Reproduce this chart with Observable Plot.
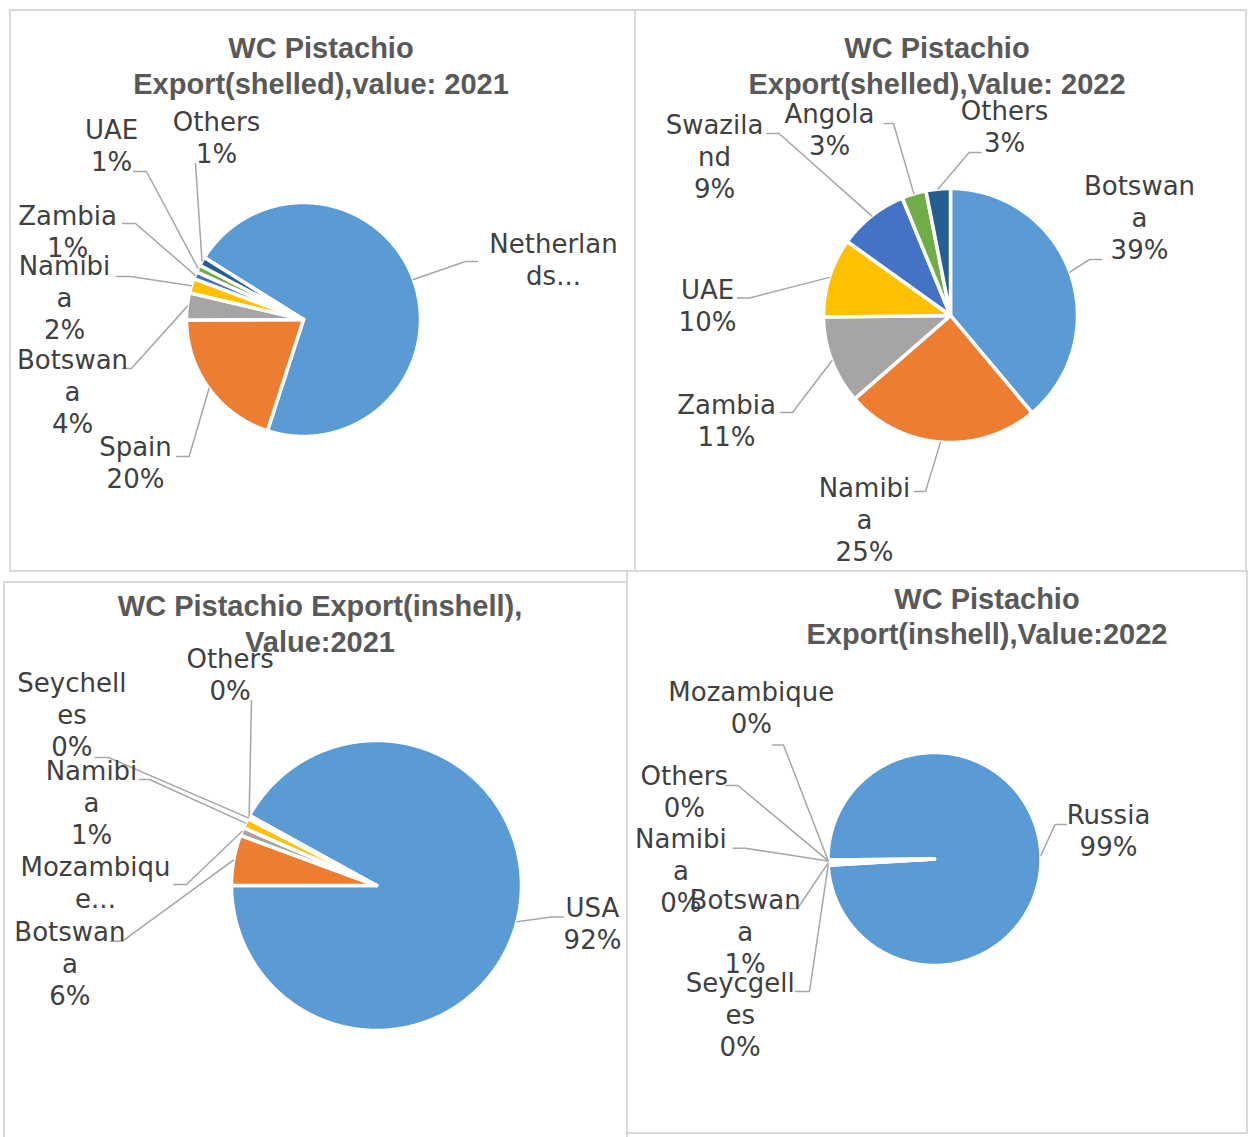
<!DOCTYPE html>
<html><head><meta charset="utf-8">
<script src="https://cdn.jsdelivr.net/npm/d3@7"></script>
<script src="https://cdn.jsdelivr.net/npm/@observablehq/plot@0.6"></script>
<style>
body{margin:0;background:#fff;}
#page{position:relative;width:1251px;height:1137px;overflow:hidden;background:#fff;}
.panel{position:absolute;border:2px solid #d9d9d9;box-sizing:border-box;}
.title{position:absolute;width:700px;text-align:center;font:bold 29px/35.5px "Liberation Sans",Arial,sans-serif;color:#595959;white-space:nowrap;}
.chart{position:absolute;}
</style></head><body><div id="page"></div>
<script>
// Excel office palette
const palette = ["#5B9BD5","#ED7D31","#A5A5A5","#FFC000","#4472C4","#70AD47","#255E91"];

// Chart 1: shelled 2021
const shelled2021Title = ["WC Pistachio", "Export(shelled),value: 2021"];
const shelled2021Labels = ["Netherlan\nds...", "Spain", "Botswan\na", "Namibi\na", "Zambia", "UAE", "Others"];
const shelled2021Values = [70.6, 19.8, 3.7, 2.0, 1.0, 1.0, 1.2];

// Chart 2: shelled 2022
const shelled2022Title = ["WC Pistachio", "Export(shelled),Value: 2022"];
const shelled2022Labels = ["Botswan\na", "Namibi\na", "Zambia", "UAE", "Swazila\nnd", "Angola", "Others"];
const shelled2022Values = [38.9, 24.7, 11.2, 10.1, 8.9, 3.1, 3.1];

// Chart 3: inshell 2021
const inshell2021Title = ["WC Pistachio Export(inshell),", "Value:2021"];
const inshell2021Labels = ["USA", "Botswan\na", "Mozambiqu\ne...", "Namibi\na", "Seychell\nes", "Others"];
const inshell2021Values = [91.8, 5.6, 0.9, 1.1, 0.2, 0.2];

// Chart 4: inshell 2022
const inshell2022Title = ["WC Pistachio", "Export(inshell),Value:2022"];
const inshell2022Labels = ["Russia", "Seycgell\nes", "Botswan\na", "Namibi\na", "Others", "Mozambique"];
const inshell2022Values = [99.2, 0.07, 0.52, 0.07, 0.07, 0.07];

// Layout (page pixel coordinates): panel box, pie centre/radius, first slice angle,
// title centre/baseline, and per label: [textX, firstBaseline, elbowX, elbowY, endX, endY]
const layouts = [
  {labels: shelled2021Labels, values: shelled2021Values, title: shelled2021Title,
   panel: {left: 9, top: 9, width: 627, height: 563}, cx: 303, cy: 319, r: 117, start: 302,
   titleX: 321, titleY: 59,
   pos: [[553,252,465,261,477,261],[135,455.5,188.6,456,176,456],[72,368.5,131,368,122,368],
         [64,274,130,276,116,276],[67,224,135,223,122,223],[111,138,146,171,133,171],[216,130,195,163,195,163]]},
  {labels: shelled2022Labels, values: shelled2022Values, title: shelled2022Title,
   panel: {left: 634, top: 9, width: 613, height: 563}, cx: 950, cy: 315, r: 127, start: 0,
   titleX: 937, titleY: 59,
   pos: [[1139,194.4,1089,259,1101,259],[864,496,925,491,914,491],[726,413,792,412,780,412],
         [707,298,749,297.5,737,297.5],[714,133,778.5,133,766.5,133],[829,122,893,123,883.5,123],[1004,119,968.6,152,980.5,152]]},
  {labels: inshell2021Labels, values: inshell2021Values, title: inshell2021Title,
   panel: {left: 3, top: 581, width: 625, height: 560}, cx: 376, cy: 885, r: 145, start: 298.9,
   titleX: 320, titleY: 617,
   pos: [[592,916.5,551,916.5,563,916.5],[69.4,940.7,122,940.7,110,940.7],[95,875.6,186,884,173.5,884],
         [91,779,149,779,139,779],[71.4,691,108,757,95,757],[229.6,667.6,251,700,251,700]]},
  {labels: inshell2022Labels, values: inshell2022Values, title: inshell2022Title,
   panel: {left: 626, top: 570, width: 622, height: 564}, cx: 934, cy: 858.5, r: 106.5, start: 269.5,
   titleX: 987, titleY: 609.5,
   pos: [[1108,823.3,1054.6,824,1066,824],[739.7,991.8,809,991,795,991],[744.7,908,797,908,786,908],
         [680.4,847.7,744.7,847.7,732.7,847.7],[683.8,784,737.5,785,725.4,785],[750.8,700.7,783,744.5,772,744.5]]}
];

const page = document.getElementById("page");
const LINE = 32;

for (const L of layouts) {
  const p = L.panel;
  const panel = document.createElement("div");
  panel.className = "panel";
  Object.assign(panel.style, {left: p.left + "px", top: p.top + "px", width: p.width + "px", height: p.height + "px"});
  page.appendChild(panel);

  const total = d3.sum(L.values);
  const a0 = L.start * Math.PI / 180;
  const arcs = d3.pie().sort(null).value(d => d).startAngle(a0).endAngle(a0 + 2 * Math.PI)(L.values);

  const slicePts = [];
  const leaders = [];
  const texts = [];
  arcs.forEach((a, i) => {
    const key = L.labels[i];
    const n = Math.max(2, Math.ceil((a.endAngle - a.startAngle) / (Math.PI / 360)));
    slicePts.push({key, x: L.cx, y: L.cy});
    for (let k = 0; k <= n; k++) {
      const ang = a.startAngle + (a.endAngle - a.startAngle) * k / n;
      slicePts.push({key, x: L.cx + L.r * Math.sin(ang), y: L.cy - L.r * Math.cos(ang)});
    }
    slicePts.push({key, x: L.cx, y: L.cy});

    const mid = (a.startAngle + a.endAngle) / 2;
    const [tx, ty, ex, ey, fx, fy] = L.pos[i];
    leaders.push({key, x: L.cx + L.r * Math.sin(mid), y: L.cy - L.r * Math.cos(mid)});
    leaders.push({key, x: ex, y: ey});
    leaders.push({key, x: fx, y: fy});

    const lines = key.split("\n");
    if (!key.endsWith("...")) lines.push(Math.round(L.values[i] / total * 100) + "%");
    lines.forEach((t, j) => texts.push({x: tx, y: ty + j * LINE, t}));
  });

  const svg = Plot.plot({
    width: p.width, height: p.height, margin: 0,
    x: {domain: [p.left, p.left + p.width], range: [0, p.width], axis: null},
    y: {domain: [p.top, p.top + p.height], range: [0, p.height], axis: null},
    color: {domain: L.labels, range: palette},
    style: {background: "transparent", overflow: "visible"},
    marks: [
      Plot.line(slicePts, {x: "x", y: "y", z: "key", fill: "key", stroke: "white", strokeWidth: 3.5, strokeLinejoin: "round"}),
      Plot.line(leaders, {x: "x", y: "y", z: "key", stroke: "#a6a6a6", strokeWidth: 1.5}),
      Plot.text(texts, {x: "x", y: "y", text: "t", textAnchor: "middle", lineAnchor: "bottom",
        fontSize: 26, fontFamily: "DejaVu Sans", fill: "#404040"})
    ]
  });
  svg.classList.add("chart");
  Object.assign(svg.style, {left: p.left + "px", top: p.top + "px", position: "absolute", maxWidth: "none"});
  page.appendChild(svg);

  const title = document.createElement("div");
  title.className = "title";
  title.innerHTML = L.title.join("<br>");
  Object.assign(title.style, {left: (L.titleX - 350) + "px", top: (L.titleY - 27.8) + "px"});
  page.appendChild(title);
}
</script></body></html>
